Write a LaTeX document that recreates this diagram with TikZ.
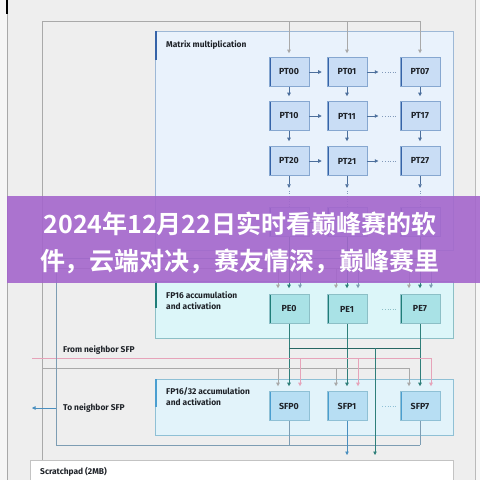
\documentclass[tikz,border=0pt]{standalone}
\usepackage{fontspec}
\setmainfont{Fira Sans}
\newfontfamily\cjkfont{Noto Sans CJK SC}[BoldFont={Noto Sans CJK SC Bold}]
\usetikzlibrary{arrows.meta,positioning}

\definecolor{pagebg}{HTML}{EEEEEE}
\definecolor{edgebg}{HTML}{F6F6F6}
\definecolor{busgray}{HTML}{A9A9A9}
\definecolor{labelc}{HTML}{1E2228}
\definecolor{mmfill}{HTML}{E9F2FC}
\definecolor{mmedge}{HTML}{9DB8D6}
\definecolor{mmbar}{HTML}{3563A8}
\definecolor{ptfill}{HTML}{C9DDF5}
\definecolor{ptedge}{HTML}{86A7D0}
\definecolor{ptarrowc}{HTML}{4C6F9C}
\definecolor{pefillbg}{HTML}{DCF6F9}
\definecolor{peedge}{HTML}{8CBFC6}
\definecolor{pebar}{HTML}{1F7D78}
\definecolor{pefill}{HTML}{A9E2E6}
\definecolor{tealc}{HTML}{2F7F7A}
\definecolor{sfpfillbg}{HTML}{E2F3FA}
\definecolor{sfpedge}{HTML}{8FC0D5}
\definecolor{sfpbar}{HTML}{4A9ED0}
\definecolor{sfpfill}{HTML}{B7DEF3}
\definecolor{sfparrowc}{HTML}{4A8FBF}
\definecolor{pinkc}{HTML}{E6A3B9}
\definecolor{bluegray}{HTML}{7D9DB3}
\definecolor{bannerc}{HTML}{A466CC}

\tikzset{
  tip/.style={-{Triangle[length=3.5pt,width=3.5pt]}},
  wire/.style={draw=#1, line width=0.6pt},
  dots/.style={draw=#1, line width=0.6pt, dotted},
  cell/.style={minimum width=40pt, minimum height=29pt, inner sep=0pt,
    line width=0.6pt, font=\bfseries\fontsize{8.8}{10}\selectfont, text=labelc},
  ptcell/.style={cell, fill=ptfill, draw=ptedge, path picture={
    \fill[mmbar] (path picture bounding box.north west) rectangle
      ([xshift=2pt]path picture bounding box.south west);}},
  pecell/.style={cell, fill=pefill, draw=peedge, path picture={
    \fill[pebar] (path picture bounding box.north west) rectangle
      ([xshift=2pt]path picture bounding box.south west);}},
  sfpcell/.style={cell, fill=sfpfill, draw=sfpedge, path picture={
    \fill[sfpbar] (path picture bounding box.north west) rectangle
      ([xshift=2pt]path picture bounding box.south west);}},
  panel/.style={anchor=north west, inner sep=0pt, line width=0.6pt, minimum width=298pt},
  paneltext/.style={anchor=west, align=left, inner sep=0pt,
    font=\bfseries\fontsize{8.4}{11}\selectfont, text=labelc}
}

\begin{document}
\begin{tikzpicture}[x=1pt, y=-1pt]
  \useasboundingbox (0,0) rectangle (480,480);
  \fill[pagebg] (0,0) rectangle (480,480);
  \fill[edgebg] (0,0) rectangle (7,480);
  \fill[edgebg] (475,0) rectangle (480,480);
  \draw[busgray] (7,0) -- (7,480);
  \draw[black, line width=1.5pt] (7,0) -- (7,14);
  \draw[busgray!80] (475,0) -- (475,480);

  \node[panel, fill=mmfill, draw=mmedge, minimum height=219pt] (mm) at (155,31) {};
  \fill[mmbar] (155,31) rectangle (157,60);
  \node[paneltext] (mmlabel) at (166,45) {Matrix multiplication};

  \node[panel, fill=pefillbg, draw=peedge, minimum height=57pt] (fp) at (155,281) {};
  \fill[pebar] (155,281) rectangle (157,308);
  \node[paneltext] (fplabel) at (166,300.5) {FP16 accumulation\\and activation};

  \node[panel, fill=sfpfillbg, draw=sfpedge, minimum height=56pt] (sf) at (155,379) {};
  \fill[sfpbar] (155,379) rectangle (157,407);
  \node[paneltext] (sflabel) at (166,396.5) {FP16/32 accumulation\\and activation};

  \foreach \r/\y in {0/72,1/116,2/161}
    \foreach \c/\x in {0/289,1/347,7/420}
      \node[ptcell] (pt\r\c) at (\x,\y) {PT\r\c};
  \foreach \c/\x in {0/289,1/347,7/420}
    \node[ptcell] (pt7\c) at (\x,222) {};

  \foreach \c/\x in {0/289,1/347,7/420} {
    \node[pecell] (pe\c) at (\x,309) {PE\c};
    \node[sfpcell] (sfp\c) at (\x,406) {SFP\c};
  }

  % top bus into the PT grid
  \coordinate (topl) at (42,21);
  \coordinate (topr) at (420,21);
  \draw[wire=busgray] (42,460) -- (topl) -- (topr);
  \foreach \c/\x in {0/289,1/347,7/420}
    \draw[wire=busgray, tip, shorten >=4pt] (\x,21) -- (pt0\c.north);

  \foreach \r in {0,1,2,7} {
    \draw[wire=ptarrowc, tip, shorten >=5pt] (pt\r0) -- (pt\r1);
    \draw[wire=ptarrowc, tip] (pt\r1.east) -- ([xshift=11pt]pt\r1.east);
    \draw[dots=ptarrowc!70] ([xshift=15pt]pt\r1.east) -- ([xshift=-3pt]pt\r7.west);
  }
  \foreach \c in {0,1,7} {
    \draw[wire=ptarrowc, tip, shorten >=5pt] (pt0\c) -- (pt1\c);
    \draw[wire=ptarrowc, tip, shorten >=5pt] (pt1\c) -- (pt2\c);
    \draw[wire=ptarrowc, tip] (pt2\c.south) -- ([yshift=-12pt]pt2\c.south);
    \draw[dots=ptarrowc!70] ([yshift=-15pt]pt2\c.south) -- (pt7\c.north);
    \draw[wire=tealc, tip, shorten >=6pt] (pt7\c) -- (pe\c);
    \draw[wire=tealc, tip, shorten >=5pt] (pe\c) -- (sfp\c);
  }
  \draw[dots=peedge] ([xshift=15pt]pe1.east) -- ([xshift=-3pt]pe7.west);
  \draw[dots=sfpedge] ([xshift=15pt]sfp1.east) -- ([xshift=-3pt]sfp7.west);

  % side inputs into PE and SFP
  \draw[wire=busgray] (42,268) -- (409,268);
  \draw[wire=busgray] (42,368) -- (409,368);
  \draw[wire=pinkc] (32,358) -- (431,358);
  \coordinate (fbtop) at (56,258);
  \coordinate (fbbot) at (56,445);
  \draw[wire=bluegray] (431,258) -- (fbtop) -- (fbbot) -- (420,445);
  \foreach \c in {0,1,7} {
    \draw[wire=busgray, tip, shorten >=6pt] ([xshift=-11pt]pe\c.north |- 0,268) -- ([xshift=-11pt]pe\c.north);
    \draw[wire=bluegray, tip, shorten >=6pt] ([xshift=11pt]pe\c.north |- 0,258) -- ([xshift=11pt]pe\c.north);
    \draw[wire=busgray, tip, shorten >=5pt] ([xshift=-11pt]sfp\c.north |- 0,368) -- ([xshift=-11pt]sfp\c.north);
    \draw[wire=pinkc, tip, shorten >=5pt] ([xshift=11pt]sfp\c.north |- 0,358) -- ([xshift=11pt]sfp\c.north);
  }

  % outputs
  \draw[wire=tealc!80!black] (pe0.south |- 0,348) -- (pe7.south |- 0,348);
  \coordinate (pesum) at (375,348);
  \coordinate (pesink) at (375,455);
  \draw[wire=tealc, tip] (pesum) -- (pesink);
  \draw[wire=bluegray] (sfp0.south) -- (sfp0.south |- fbbot);
  \draw[wire=bluegray] (sfp7.south) -- (sfp7.south |- fbbot);
  \coordinate (sfpsink) at (347,455);
  \draw[wire=sfparrowc, tip] (sfp1.south) -- (sfpsink);
  \coordinate (toneighbor) at (32,408);
  \draw[wire=sfparrowc, tip] (56,408) -- (toneighbor);

  \node[paneltext] (fromlabel) at (63,350) {From neighbor SFP};
  \node[paneltext] (tolabel) at (63,408) {To neighbor SFP};

  \node[anchor=north west, fill=white, draw=busgray!70, line width=0.6pt,
    minimum width=423pt, minimum height=24pt] (scratch) at (30,460) {};
  \node[paneltext] (scratchlabel) at (40,472) {Scratchpad (2MB)};

  \fill[bannerc, opacity=0.9] (7,196) rectangle (480,283);
  \node[text=white, align=center, font=\cjkfont\bfseries\fontsize{25}{37}\selectfont]
    (banner) at (240,243) {2024年12月22日实时看巅峰赛的软\\件，云端对决，赛友情深，巅峰赛里};
\end{tikzpicture}
\end{document}
